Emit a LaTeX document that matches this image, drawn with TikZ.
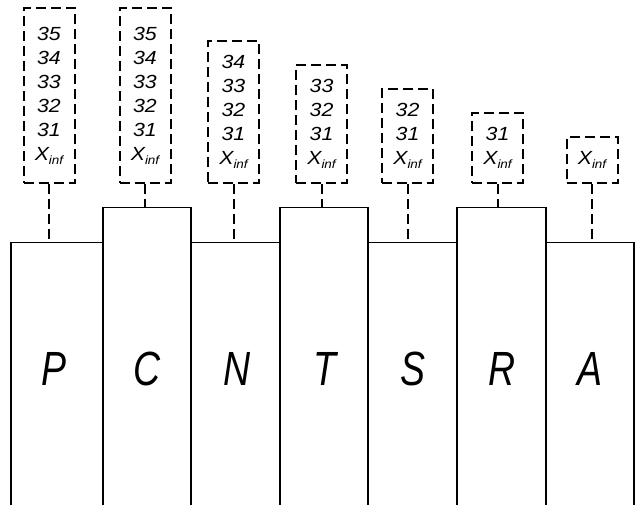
\documentclass[tikz,border=0pt]{standalone}
\usepackage{fontspec}
\setmainfont{Liberation Sans}
\begin{document}
\begin{tikzpicture}[x=1pt,y=-1pt,
  colbox/.style={draw, line width=1.3pt, rectangle, inner sep=0pt, anchor=north, minimum height=320pt},
  tagbox/.style={draw, line width=2pt, dash pattern=on 10pt off 5pt, rectangle, inner sep=0pt,
    anchor=south, minimum width=51pt, align=center,
    font=\fontsize{19}{24}\selectfont\itshape\addfontfeature{FakeStretch=1.12}},
  link/.style={line width=2pt, dash pattern=on 10pt off 5pt},
  big/.style={font=\fontsize{48}{48}\selectfont\itshape\addfontfeature{FakeStretch=0.78}}]
\useasboundingbox (0,0) rectangle (637,504);

% columns (open at the bottom edge)
\node[colbox, minimum width=92pt] (cP) at (57,242) {};
\node[colbox, minimum width=88pt] (cC) at (147,207) {};
\node[colbox, minimum width=89pt] (cN) at (235.5,242) {};
\node[colbox, minimum width=88pt] (cT) at (324,207) {};
\node[colbox, minimum width=89pt] (cS) at (412.5,242) {};
\node[colbox, minimum width=89pt] (cR) at (501.5,207) {};
\node[colbox, minimum width=88pt] (cA) at (590,242) {};

% column letters
\node[big] (lP) at (54,369) {P};
\node[big] (lC) at (147,369) {C};
\node[big] (lN) at (237,369) {N};
\node[big] (lT) at (325,369) {T};
\node[big] (lS) at (413,369) {S};
\node[big] (lR) at (502,369) {R};
\node[big] (lA) at (590,369) {A};

% dashed tag boxes
\newcommand{\xinf}{X\raisebox{-0.4ex}{\fontsize{12}{12}\selectfont\itshape inf}}
\node[tagbox, minimum height=175pt] (bP) at (49,184) {35\\34\\33\\32\\31\\\xinf};
\node[tagbox, minimum height=175pt] (bC) at (145,184) {35\\34\\33\\32\\31\\\xinf};
\node[tagbox, minimum height=142pt] (bN) at (233.5,184) {34\\33\\32\\31\\\xinf};
\node[tagbox, minimum height=118pt] (bT) at (321.5,184) {33\\32\\31\\\xinf};
\node[tagbox, minimum height=94pt] (bS) at (407.5,184) {32\\31\\\xinf};
\node[tagbox, minimum height=70pt] (bR) at (497.5,184) {31\\\xinf};
\node[tagbox, minimum height=46pt] (bA) at (592,184) {\xinf};

% dashed links from tags to columns
\foreach \b/\c in {bP/cP,bC/cC,bN/cN,bT/cT,bS/cS,bR/cR,bA/cA}
  \draw[link] (\b.south) -- (\b.south |- \c.north);
\end{tikzpicture}
\end{document}
